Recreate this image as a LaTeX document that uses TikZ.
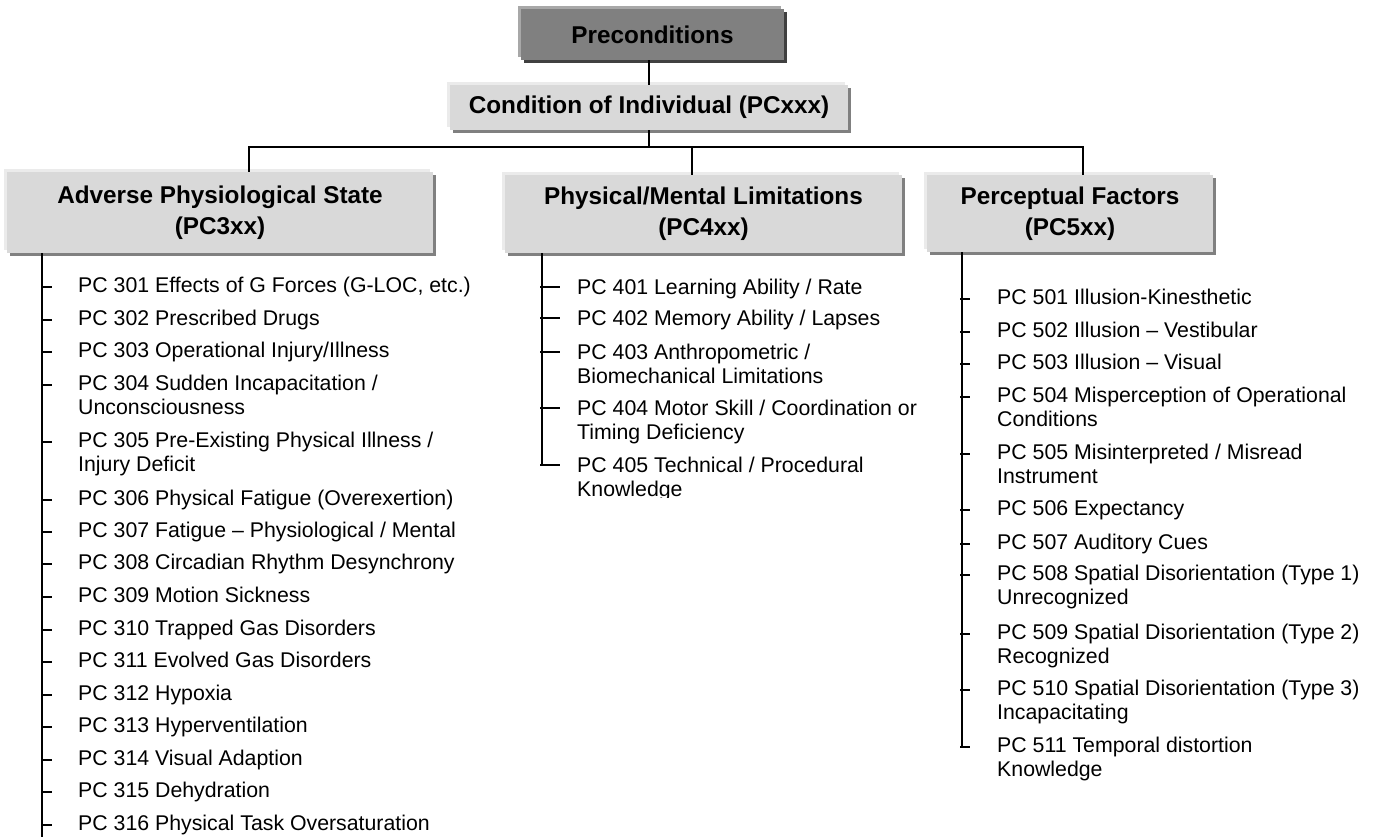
\documentclass[tikz,border=0pt]{standalone}
\usepackage{fontspec}
\setmainfont{Liberation Sans}
\usetikzlibrary{shadows}

\definecolor{boxfill}{HTML}{D9D9D9}
\definecolor{boxhi}{HTML}{EBEBEB}
\definecolor{boxsh}{HTML}{808080}
\definecolor{topfill}{HTML}{808080}
\definecolor{tophi}{HTML}{A8A8A8}
\definecolor{topsh}{HTML}{404040}

% two-line list entry, baseline on the first line
\newcommand\twoline[2]{\begin{tabular}[t]{@{}l@{}}#1\\#2\end{tabular}}

\begin{document}
\begin{tikzpicture}[x=1pt, y=-1pt,
  conn/.style={line width=2.4pt, line join=miter},
  tick/.style={line width=1.3pt},
  bevel/.style={inner sep=0pt, align=center,
    font=\fontsize{24.3}{31}\selectfont\bfseries},
  catbox/.style={bevel, fill=boxfill,
    general shadow={shadow xshift=-3pt, shadow yshift=3pt, fill=boxhi},
    general shadow={shadow xshift=3pt, shadow yshift=-3pt, fill=boxsh}},
  topbox/.style={bevel, fill=topfill,
    general shadow={shadow xshift=-3pt, shadow yshift=3pt, fill=tophi},
    general shadow={shadow xshift=3pt, shadow yshift=-3pt, fill=topsh}},
  item/.style={anchor=base west, inner sep=0pt,
    font=\fontsize{21.3}{23.5}\selectfont}]

\useasboundingbox (0,0) rectangle (1374,837);

% header boxes
\node[topbox, minimum width=263pt, minimum height=51pt] (pre) at (652.5,34.5) {Preconditions};
\node[catbox, minimum width=398pt, minimum height=45pt] (cond) at (649,107.5) {Condition of Individual (PCxxx)};

% category boxes
\node[catbox, minimum width=426pt, minimum height=81pt] (adv) at (220,212.5) {Adverse Physiological State\\(PC3xx)};
\node[catbox, minimum width=397pt, minimum height=78pt] (phys) at (703.5,214) {Physical/Mental Limitations\\(PC4xx)};
\node[catbox, minimum width=286pt, minimum height=77pt] (perc) at (1070,213.5) {Perceptual Factors\\(PC5xx)};

% tree connectors
\coordinate (bus) at ([yshift=-17pt]cond.south);
\draw[conn] (pre.south -| cond.north) -- (cond.north);
\draw[conn] (cond.south) -- (bus);
\draw[conn] ([xshift=29pt]adv.north) |- (bus);
\draw[conn] ([xshift=-11.5pt]phys.north) |- (bus);
\draw[conn] ([xshift=13pt]perc.north) |- (bus);

% ---- PC3xx list ----
\node[item] (p301) at (78,292.5) {PC 301 Effects of G Forces (G-LOC, etc.)};
\node[item] (p302) at (78,325.5) {PC 302 Prescribed Drugs};
\node[item] (p303) at (78,357.5) {PC 303 Operational Injury/Illness};
\node[item] (p304) at (78,390.5) {\twoline{PC 304 Sudden Incapacitation /}{Unconsciousness}};
\node[item] (p305) at (78,447.5) {\twoline{PC 305 Pre-Existing Physical Illness /}{Injury Deficit}};
\node[item] (p306) at (78,505.5) {PC 306 Physical Fatigue (Overexertion)};
\node[item] (p307) at (78,537.5) {PC 307 Fatigue – Physiological / Mental};
\node[item] (p308) at (78,569.5) {PC 308 Circadian Rhythm Desynchrony};
\node[item] (p309) at (78,602.5) {PC 309 Motion Sickness};
\node[item] (p310) at (78,635.5) {PC 310 Trapped Gas Disorders};
\node[item] (p311) at (78,667.5) {PC 311 Evolved Gas Disorders};
\node[item] (p312) at (78,700.5) {PC 312 Hypoxia};
\node[item] (p313) at (78,732.5) {PC 313 Hyperventilation};
\node[item] (p314) at (78,765.5) {PC 314 Visual Adaption};
\node[item] (p315) at (78,797.5) {PC 315 Dehydration};
\node[item] (p316) at (78,830.5) {PC 316 Physical Task Oversaturation};

\coordinate (s1top) at ([xshift=-178pt]adv.south);
\coordinate (s1bot) at (42,837);
\draw[conn] (s1top) -- (s1bot);
\foreach \n in {p301,p302,p303,p304,p305,p306,p307,p308,p309,p310,p311,p312,p313,p314,p315,p316}
  \draw[tick] ([yshift=5.5pt]\n.base west -| s1top) -- ++(10,0);

% ---- PC4xx list ----
\node[item] (p401) at (577,294.5) {PC 401 Learning Ability / Rate};
\node[item] (p402) at (577,325.5) {PC 402 Memory Ability / Lapses};
\node[item] (p403) at (577,359.5) {\twoline{PC 403 Anthropometric /}{Biomechanical Limitations}};
\node[item] (p404) at (577,415.5) {\twoline{PC 404 Motor Skill / Coordination or}{Timing Deficiency}};
\begin{scope}
  \clip (560,440) rectangle (900,497);
  \node[item] (p405) at (577,472.5) {\twoline{PC 405 Technical / Procedural}{Knowledge}};
\end{scope}

\coordinate (s2top) at ([xshift=-161.5pt]phys.south);
\coordinate (e2) at ([yshift=7.5pt]p405.base west);
\draw[conn] (s2top) -- (s2top |- e2);
\foreach \n in {p401,p402,p403,p404,p405}
  \draw[tick] ([yshift=7.5pt]\n.base west -| s2top) ++(-2,0) -- ++(20,0);

% ---- PC5xx list ----
\node[item] (p501) at (997,304.5) {PC 501 Illusion-Kinesthetic};
\node[item] (p502) at (997,337.5) {PC 502 Illusion – Vestibular};
\node[item] (p503) at (997,369.5) {PC 503 Illusion – Visual};
\node[item] (p504) at (997,402.5) {\twoline{PC 504 Misperception of Operational}{Conditions}};
\node[item] (p505) at (997,459.5) {\twoline{PC 505 Misinterpreted / Misread}{Instrument}};
\node[item] (p506) at (997,515.5) {PC 506 Expectancy};
\node[item] (p507) at (997,549.5) {PC 507 Auditory Cues};
\node[item] (p508) at (997,580.5) {\twoline{PC 508 Spatial Disorientation (Type 1)}{Unrecognized}};
\node[item] (p509) at (997,639.5) {\twoline{PC 509 Spatial Disorientation (Type 2)}{Recognized}};
\node[item] (p510) at (997,695.5) {\twoline{PC 510 Spatial Disorientation (Type 3)}{Incapacitating}};
\node[item] (p511) at (997,752.5) {\twoline{PC 511 Temporal distortion}{Knowledge}};

\coordinate (s3top) at ([xshift=-108pt]perc.south);
\coordinate (e3) at ([yshift=5.5pt]p511.base west);
\draw[conn] (s3top) -- (s3top |- e3);
\foreach \n in {p501,p502,p503,p504,p505,p506,p507,p508,p509,p510,p511}
  \draw[tick] ([yshift=5.5pt]\n.base west -| s3top) ++(-2,0) -- ++(10,0);

\end{tikzpicture}
\end{document}
